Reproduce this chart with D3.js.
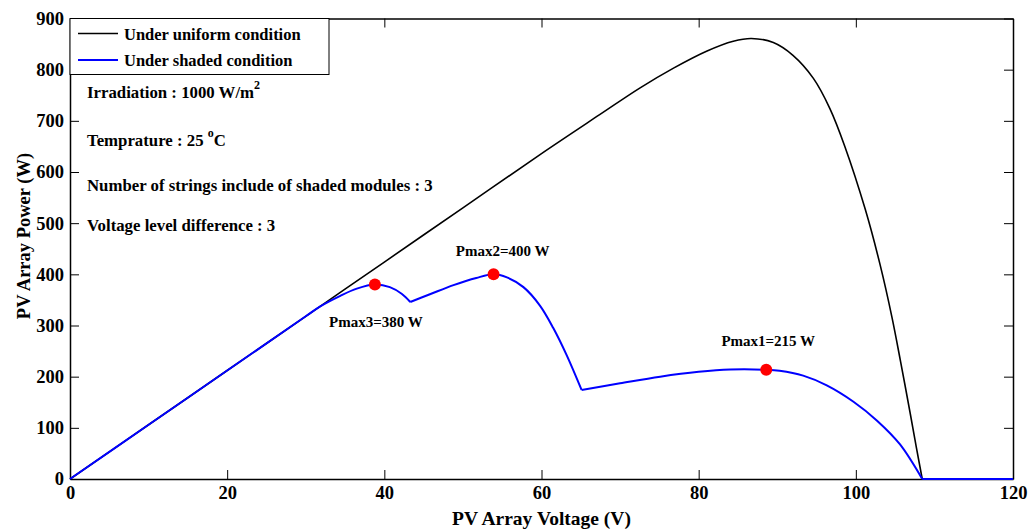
<!DOCTYPE html>
<html><head><meta charset="utf-8">
<script src="https://cdn.jsdelivr.net/npm/d3@7"></script>
<style>
body{margin:0;background:#fff;}
text{font-family:"Times New Roman","Liberation Serif",serif;font-weight:bold;fill:#000;}
</style></head>
<body><svg id="chart" width="1031" height="531"></svg>
<script>
// ---- data ----
const xTicks = [0, 20, 40, 60, 80, 100, 120];
const yTicks = [0, 100, 200, 300, 400, 500, 600, 700, 800, 900];

const uniformV = [0, 10, 20, 30, 40, 50, 60, 67.4, 72.5, 76.8, 81.0, 84.4, 86.7, 89.5, 92.0, 94.6, 96.7, 98.6, 101.2, 103.1, 104.6, 105.7, 106.9, 107.7, 108.45, 120];
const uniformP = [0, 106, 212, 318, 424, 530, 636, 712, 764, 803, 836, 855.5, 861, 853, 828, 783, 724, 650, 527, 418, 316, 229, 130, 62, 0, 0];
const uniformKinks = [108.45];

const shadedV = [0, 10, 20, 30, 31.8, 34.4, 36.5, 38.8, 40.7, 42.2, 43.3, 45.8, 48.8, 51.7, 53.9, 55.6, 57.7, 59.8, 61.5, 63.2, 65.1, 70, 75.1, 80, 84, 88.6, 90.3, 93.3, 96.3, 99.7, 102.7, 105.6, 108.45, 120];
const shadedP = [0, 106, 212, 318, 337, 358, 372, 380, 375, 362, 346, 361, 379, 393, 400, 394, 375, 339, 295, 242, 174, 187, 200, 209.5, 214, 213.5, 211.5, 202, 183, 151, 114, 68, 0, 0];
const shadedKinks = [43.3, 65.1, 108.45];

const pmaxLabels = ["Pmax1=215 W", "Pmax2=400 W", "Pmax3=380 W"];
const pmaxV = [88.6, 53.9, 38.8];
const pmaxP = [213.5, 400, 380];

const seriesNames = ["Under uniform condition", "Under shaded condition"];
const infoLines = ["Irradiation : 1000 W/m", "Temprature : 25 ", "Number of strings include of shaded modules : 3", "Voltage level difference : 3"];

// ---- layout ----
const L = 70, R = 1013, T = 18.5, B = 479;
const svg = d3.select("#chart");
const x = d3.scaleLinear().domain([0, 120]).range([L, R]);
const y = d3.scaleLinear().domain([0, 900]).range([B, T]);

function splitSegments(V, P, kinks) {
  const segs = [];
  let cur = [];
  V.forEach((v, i) => {
    const p = [v, P[i]];
    cur.push(p);
    if (kinks.includes(v)) { segs.push(cur); cur = [p]; }
  });
  if (cur.length > 1) segs.push(cur);
  return segs;
}
const line = d3.line().x(d => x(d[0])).y(d => y(d[1])).curve(d3.curveCatmullRom.alpha(0.5));

// axes
const tick = 9;
const gB = svg.append("g").attr("transform", `translate(0,${B})`)
  .call(d3.axisBottom(x).tickValues(xTicks).tickSizeInner(-tick).tickSizeOuter(0).tickPadding(7).tickFormat(d3.format("d")));
const gL = svg.append("g").attr("transform", `translate(${L},0)`)
  .call(d3.axisLeft(y).tickValues(yTicks).tickSizeInner(-tick).tickSizeOuter(0).tickPadding(6).tickFormat(d3.format("d")));
const gT = svg.append("g").attr("transform", `translate(0,${T})`)
  .call(d3.axisTop(x).tickValues(xTicks).tickSizeInner(-tick).tickSizeOuter(0).tickFormat(""));
const gR = svg.append("g").attr("transform", `translate(${R},0)`)
  .call(d3.axisRight(y).tickValues(yTicks).tickSizeInner(-tick).tickSizeOuter(0).tickFormat(""));
[gB, gL, gT, gR].forEach(g => {
  g.select(".domain").attr("stroke", "#000").attr("stroke-width", 1.5);
  g.selectAll(".tick line").attr("stroke", "#000").attr("stroke-width", 1);
  g.selectAll("text").style("font-size", "18.5px").attr("fill", "#000");
});
gB.selectAll(".tick text").attr("dy", "0.72em");

// curves
const colors = ["#000000", "#0000ff"];
splitSegments(uniformV, uniformP, uniformKinks).forEach(seg => {
  svg.append("path").attr("d", line(seg)).attr("fill", "none").attr("stroke", colors[0]).attr("stroke-width", 1.6);
});
splitSegments(shadedV, shadedP, shadedKinks).forEach(seg => {
  svg.append("path").attr("d", line(seg)).attr("fill", "none").attr("stroke", colors[1]).attr("stroke-width", 2);
});

// markers
svg.selectAll("circle.pm").data(pmaxV).enter().append("circle")
  .attr("cx", (d) => x(d)).attr("cy", (d, i) => y(pmaxP[i])).attr("r", 6).attr("fill", "#ff0000");
const labOff = [[2, -24], [9, -18], [1, 42]];
svg.selectAll("text.pm").data(pmaxLabels).enter().append("text")
  .attr("x", (d, i) => x(pmaxV[i]) + labOff[i][0]).attr("y", (d, i) => y(pmaxP[i]) + labOff[i][1])
  .attr("text-anchor", "middle").style("font-size", "15px").text(d => d);

// info texts
const infoY = [97.5, 146, 191, 231];
infoLines.forEach((t, i) => {
  const tx = svg.append("text").attr("x", 87).attr("y", infoY[i]).style("font-size", "16.8px");
  tx.append("tspan").text(t);
  if (i === 0) tx.append("tspan").attr("dy", -9).style("font-size", "12px").text("2");
  if (i === 1) { tx.append("tspan").attr("dy", -9).style("font-size", "12px").text("o"); tx.append("tspan").attr("dy", 9).text("C"); }
});

// legend
svg.append("rect").attr("x", L).attr("y", T).attr("width", 259).attr("height", 56)
  .attr("fill", "#fff").attr("stroke", "#000").attr("stroke-width", 1);
const legY = [33.5, 60];
seriesNames.forEach((n, i) => {
  svg.append("line").attr("x1", 78).attr("x2", 118).attr("y1", legY[i]).attr("y2", legY[i])
    .attr("stroke", colors[i]).attr("stroke-width", i ? 2 : 1.6);
  svg.append("text").attr("x", 124).attr("y", legY[i] + 6).style("font-size", "16.5px").text(n);
});

// axis titles
svg.append("text").attr("x", (L + R) / 2).attr("y", 525).attr("text-anchor", "middle")
  .style("font-size", "19.5px").text("PV Array Voltage (V)");
svg.append("text").attr("transform", `translate(30,236) rotate(-90)`).attr("text-anchor", "middle")
  .style("font-size", "18.5px").text("PV Array Power (W)");
</script></body></html>
